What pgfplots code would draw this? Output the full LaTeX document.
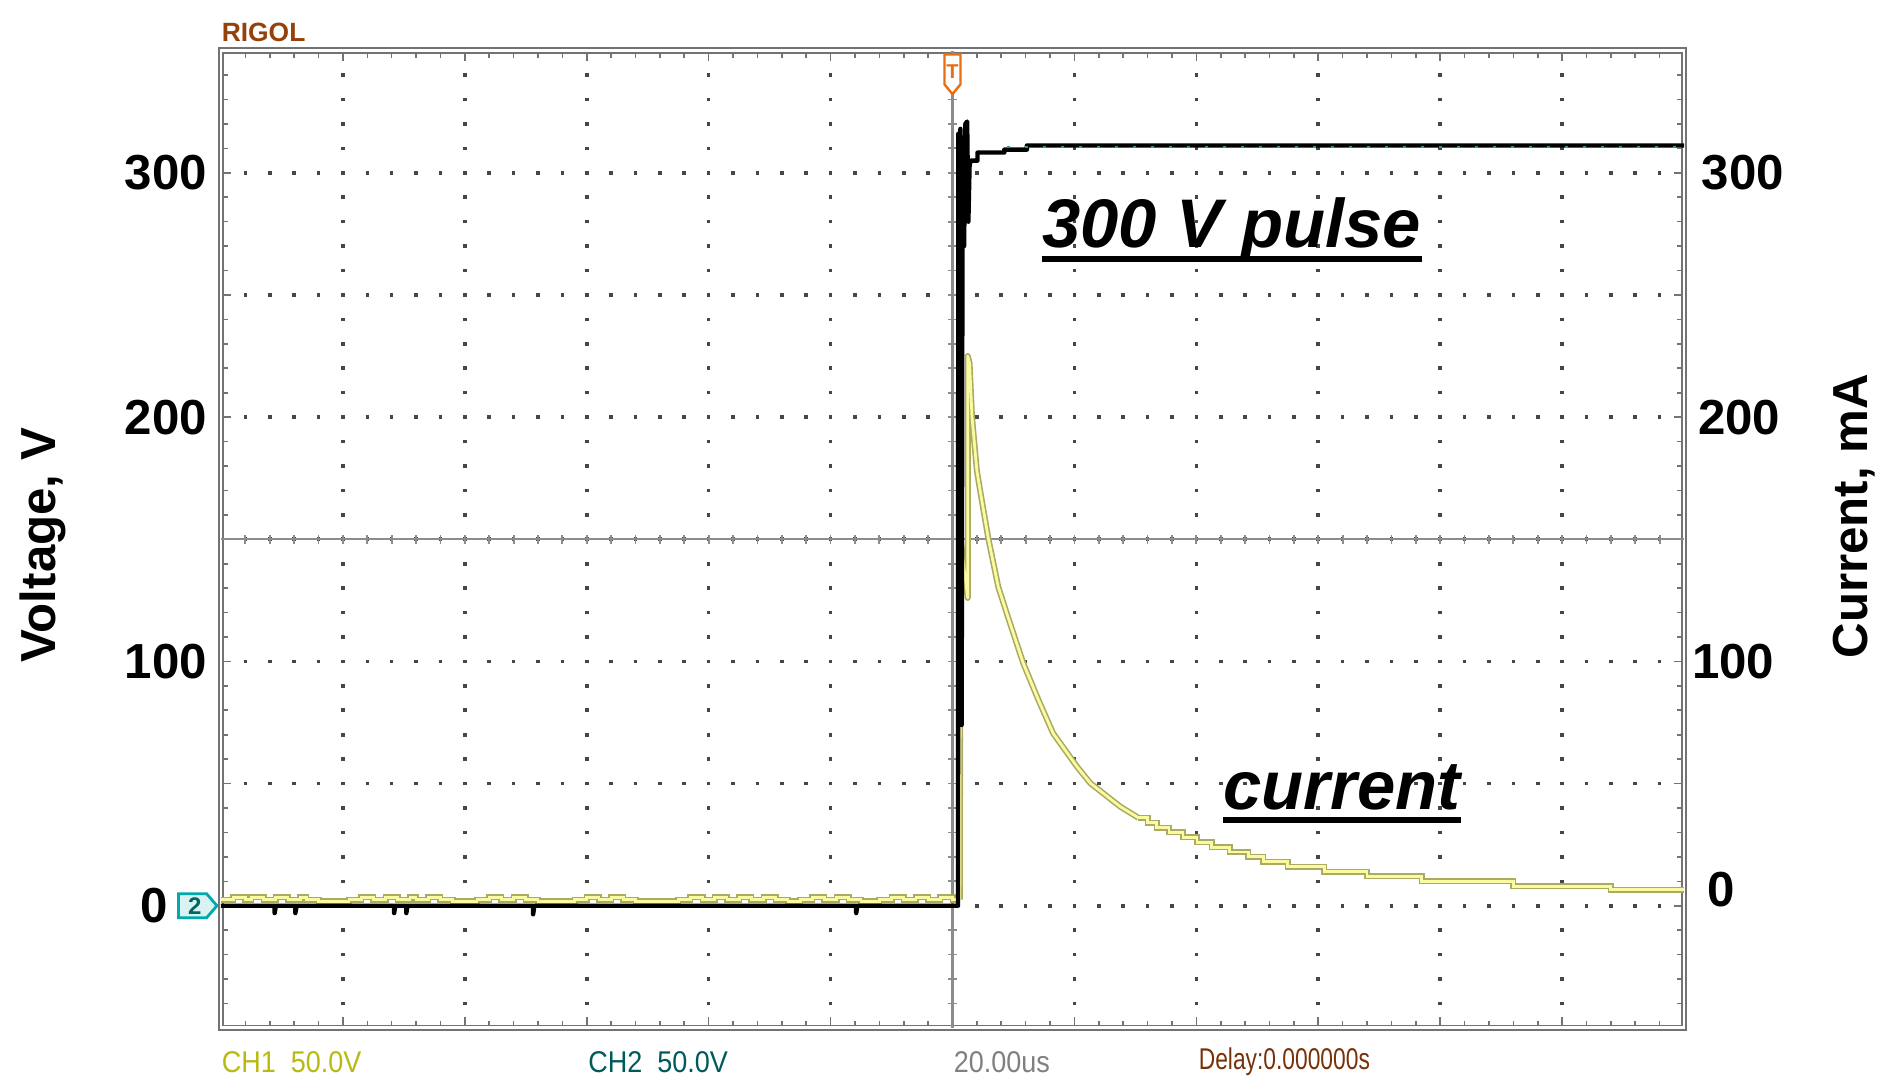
\documentclass[border=0pt]{standalone}
\usepackage{fontspec}
\setmainfont{Liberation Sans}
\usepackage{graphicx}
\usepackage{pgfplots}
\pgfplotsset{compat=1.18}
\usetikzlibrary{calc}
\definecolor{framec}{RGB}{115,115,115}
\definecolor{gridc}{RGB}{70,70,70}
\definecolor{cline}{RGB}{140,140,140}
\definecolor{yout}{RGB}{170,170,100}
\definecolor{yin}{RGB}{250,250,160}
\definecolor{chtwo}{RGB}{0,170,170}
\definecolor{rigol}{RGB}{150,65,10}
\definecolor{chonetxt}{RGB}{185,185,20}
\definecolor{chtwotxt}{RGB}{0,90,90}
\definecolor{deltxt}{RGB}{120,50,10}
\definecolor{trig}{RGB}{230,110,20}
\newcommand{\mylabfont}{\fontsize{12.3}{14}\selectfont\bfseries}
\newcommand{\myannfont}{\fontsize{17.2}{20}\selectfont\bfseries\itshape}
\newcommand{\myscopefont}{\fontsize{7.5}{9}\selectfont}
\begin{document}
\begin{tikzpicture}
\begin{axis}[
  scale only axis, width=365.75pt, height=244.3pt,
  xmin=-120, xmax=120, ymin=-50, ymax=350,
  clip=false,
  axis line style={draw=framec, double=white, double distance=0.7pt, line width=0.45pt},
  xtick={-120,-100,...,120}, xticklabels={},
  ytick={-50,0,...,350},
  yticklabels={{},{0\kern9.7pt},{},100,{},200,{},300,{}},
  minor x tick num=4, minor y tick num=4,
  tick align=inside, major tick length=2.6pt, minor tick length=1.8pt,
  tick style={draw=black!55, line width=0.4pt},
  grid=major,
  major x grid style={gridc, line width=0.9pt, dash pattern=on 0.9pt off 5.2075pt, dash phase=0.45pt},
  major y grid style={gridc, line width=0.9pt, dash pattern=on 0.9pt off 5.19583pt, dash phase=0.45pt},
  yticklabel style={font=\mylabfont},
  every axis y label/.style={at={(axis description cs:-0.122,0.494)}, rotate=90, anchor=center, font=\mylabfont},
  ylabel={Voltage, V},
]
\coordinate (ll) at (rel axis cs:0,0);
\coordinate (ur) at (rel axis cs:1,1);
% centre lines of the screen
\draw[cline, line width=0.6pt] (axis cs:0,-50) -- (axis cs:0,350);
\draw[cline, line width=0.55pt] (axis cs:-120,150) -- (axis cs:120,150);
\pgfplotsinvokeforeach{-116,-112,...,116}{\draw[cline, line width=0.45pt] (axis cs:#1,148.2) -- (axis cs:#1,151.8);}
\pgfplotsinvokeforeach{-40,-30,...,340}{\draw[cline, line width=0.45pt] (axis cs:-0.79,#1) -- (axis cs:0.79,#1);}
% current (CH1)
\addplot[yout, line width=0.4pt, double=yin, double distance=0.7pt, const plot] coordinates {
(-120,2.5) (-118,3.5) (-116,2.5) (-115,3.5) (-113,2.5) (-111,3.5) (-109,2.5) (-107,3.5) (-106,2.5) (-104,1.8)
(-99,2.5) (-97,3.5) (-95,2.5) (-93,3.5) (-91,2.5) (-89,3.5) (-88,2.5) (-86,3.5) (-84,2.5) (-82,1.8)
(-78,2.5) (-76,3.5) (-74,2.5) (-72,3.5) (-70,2.5) (-68,1.8) (-62,2.5) (-60,3.5) (-58,2.5) (-56,3.5)
(-54,2.5) (-52,1.8) (-45,2.5) (-43,3.5) (-41,2.5) (-39,3.5) (-37,2.5) (-35,3.5) (-33,2.5) (-31,3.5)
(-29,2.5) (-27,1.8) (-25,2.5) (-23,3.5) (-21,2.5) (-19,3.5) (-17,2.5) (-15,1.8) (-12,2.5) (-10,3.5)
(-8,2.5) (-6,3.5) (-4,2.5) (-2,3.5) (0,2.5) (1.2,2.5)};
\addplot[yout, line width=0.4pt, double=yin, double distance=0.7pt, line join=round] coordinates {
(1.2,2.5) (1.3,150) (2.5,126) (2.5,225) (2.8,222) (3.2,200) (4.0,178) (4.8,166) (5.9,150) (7.5,130.6)
(8.9,119.7) (11.6,99.3) (14.1,84.2) (16.5,70.6) (20.4,57) (22.6,50.2) (27.5,40.6) (30.5,36)};
\addplot[yout, line width=0.4pt, double=yin, double distance=0.7pt, const plot] coordinates {
(30.5,36) (32,34) (33.5,32) (35.5,30) (37.8,28) (40.1,26) (42.5,24) (45.5,22) (48.5,20) (51,18)
(55,16) (61,14) (68,12) (77,10) (92,8) (108,6.6) (120,6.6)};
% voltage (CH2)
\addplot[black, line width=1.1pt, line join=round] coordinates {
(-120,0) (-111.2,0) (-111.2,-3) (-111.0,0) (-107.8,0) (-107.8,-3) (-107.6,0)
(-91.6,0) (-91.6,-3) (-91.4,0) (-89.6,0) (-89.6,-3) (-89.4,0)
(-68.8,0) (-68.8,-3.5) (-68.6,0) (-15.8,0) (-15.8,-3) (-15.6,0)
(0.9,0) (0.95,316) (1.1,74) (1.3,318) (1.5,74) (1.65,300) (1.9,270) (2.1,320) (2.4,321) (2.6,280)
(2.8,303) (3.0,305) (4.1,305) (4.1,308.3) (8.5,308.3) (8.5,309.5) (12.2,309.5) (12.2,311.2) (120,311.2)};
\addplot[chtwo, line width=0.5pt, dash pattern=on 0.6pt off 3.9pt] coordinates {(9,310.6) (120,310.6)};
% annotations
\node[anchor=base west, inner sep=0, font=\myannfont] (p) at (axis cs:14.6,269.4) {300 V pulse};
\node[anchor=base west, inner sep=0, font=\myannfont] (c) at (axis cs:44.3,39.5) {current};
% scope decorations
\node[anchor=west, inner sep=0, font=\fontsize{6.6}{8}\selectfont\bfseries, text=rigol] at (axis description cs:0,1.0185) {RIGOL};
\draw[trig, line width=0.6pt, fill=white] (axis cs:-1.31,348.5) -- (axis cs:1.31,348.5) -- (axis cs:1.31,336.2) -- (axis cs:0,332.2) -- (axis cs:-1.31,336.2) -- cycle;
\node[text=trig, font=\fontsize{5}{6}\selectfont\bfseries, inner sep=0] at (axis cs:0,341.5) {T};
\draw[chtwo, line width=0.7pt, fill=chtwo!15] (axis cs:-120.66,0) -- (axis cs:-122.36,4.91) -- (axis cs:-126.96,4.91) -- (axis cs:-126.96,-4.91) -- (axis cs:-122.36,-4.91) -- cycle;
\node[font=\fontsize{6}{7}\selectfont\bfseries, text=chtwo!60!black, inner sep=0] at (axis cs:-124.3,0) {2};
\node[anchor=west, inner sep=0, font=\myscopefont, text=chonetxt] at (axis description cs:0,-0.0348) {\scalebox{0.9}[1]{CH1\ \ 50.0V}};
\node[anchor=west, inner sep=0, font=\myscopefont, text=chtwotxt] at (axis description cs:0.2506,-0.0348) {\scalebox{0.9}[1]{CH2\ \ 50.0V}};
\node[anchor=west, inner sep=0, font=\myscopefont, text=gray] at (axis description cs:0.5004,-0.0348) {\scalebox{0.9}[1]{20.00us}};
\node[anchor=west, inner sep=0, font=\myscopefont, text=deltxt] at (axis description cs:0.6678,-0.0348) {\scalebox{0.76}[1]{Delay:0.000000s}};
\end{axis}
\begin{axis}[
  scale only axis, width=365.75pt, height=244.3pt,
  xmin=-120, xmax=120, ymin=-50, ymax=350,
  axis x line=none, axis y line*=right, axis line style={draw=none},
  ytick={6.5,100,200,300},
  yticklabels={{\hspace{2.4pt}0},{\hspace{-1.5pt}100},200,{\hspace{0.9pt}300}},
  ytick style={draw=none},
  yticklabel style={font=\mylabfont},
  every axis y label/.style={at={(axis description cs:1.1165,0.5235)}, rotate=90, anchor=center, font=\mylabfont},
  ylabel={Current, mA},
]
\end{axis}
\draw[line width=1.5pt] ($(p.base west)+(0,-2.8pt)$) -- ($(p.base east)+(0,-2.8pt)$);
\draw[line width=1.5pt] ($(c.base west)+(0,-2.75pt)$) -- ($(c.base east)+(0,-2.75pt)$);
\pgfresetboundingbox
\useasboundingbox ($(ll)+(-55.25pt,-16pt)$) rectangle ($(ur)+(52pt,12.675pt)$);
\end{tikzpicture}
\end{document}
